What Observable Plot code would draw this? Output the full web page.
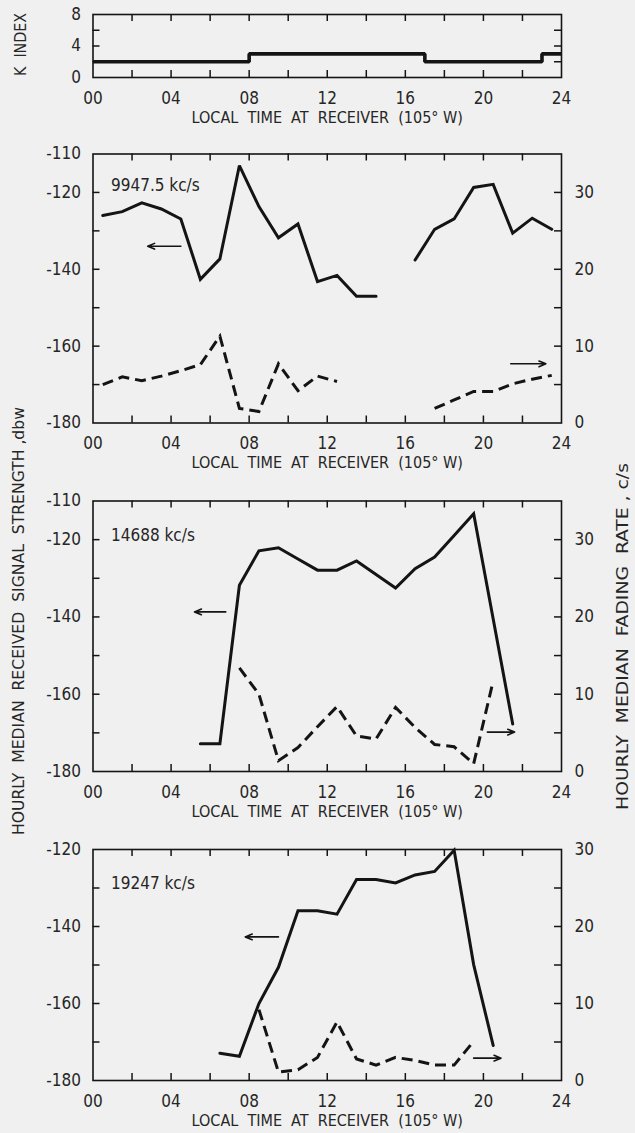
<!DOCTYPE html>
<html>
<head>
<meta charset="utf-8">
<script src="https://cdn.jsdelivr.net/npm/d3@7"></script>
<script src="https://cdn.jsdelivr.net/npm/@observablehq/plot@0.6"></script>
<style>
  html, body { margin: 0; padding: 0; background: #f0f0f0; }
  #chart { position: relative; width: 635px; height: 1133px; background: #f0f0f0; overflow: hidden; }
  #chart > svg { position: absolute; left: 0; }
</style>
</head>
<body>
<div id="chart"></div>
<script>
// ---- axes ----
const hourLabels = [0, 4, 8, 12, 16, 20, 24];
const hourMinorTicks = [2, 4, 6, 8, 10, 12, 14, 16, 18, 20, 22];
const xTitle = "LOCAL  TIME  AT  RECEIVER  (105° W)";

// ---- geomagnetic K index (step values) ----
const kHours = [0, 8, 17, 23, 24];
const kValues = [2, 3, 2, 3, 3];
const kLabels = [0, 4, 8];
const kTicks = [2, 4, 6];

// ---- 9947.5 kc/s ----
const hours9947 = [0.5, 1.5, 2.5, 3.5, 4.5, 5.5, 6.5, 7.5, 8.5, 9.5, 10.5, 11.5, 12.5, 13.5, 14.5, 15.5,
                   16.5, 17.5, 18.5, 19.5, 20.5, 21.5, 22.5, 23.5];
const signal9947 = [-126.0, -125.0, -122.7, -124.3, -126.9, -142.6, -137.3, -113.0, -123.7, -131.8, -128.2, -143.2,
                    -141.6, -147.0, -147.0, null, -137.6, -129.6, -126.9, -118.7, -117.9, -130.6, -126.7, -129.6];
const fade9947 = [5.0, 6.0, 5.5, 6.1, 6.8, 7.6, 11.3, 1.9, 1.5, 7.7, 4.2, 6.1, 5.4, null, null, null,
                  null, 1.9, 3.0, 4.1, 4.1, 5.1, 5.7, 6.2];

// ---- 14688 kc/s ----
const signalHours14688 = [5.5, 6.5, 7.5, 8.5, 9.5, 10.5, 11.5, 12.5, 13.5, 14.5, 15.5, 16.5, 17.5, 18.5, 19.5, 21.5];
const signal14688 = [-172.8, -172.8, -131.8, -122.9, -122.1, -125.0, -127.9, -127.9, -125.5, -129.0, -132.5,
                     -127.5, -124.5, -118.9, -113.3, -167.7];
const fadeHours14688 = [7.5, 8.5, 9.5, 10.5, 11.5, 12.5, 13.5, 14.5, 15.5, 16.5, 17.5, 18.5, 19.5, 20.5];
const fade14688 = [13.4, 10.0, 1.4, 3.1, 5.8, 8.4, 4.6, 4.2, 8.3, 5.7, 3.5, 3.2, 1.0, 11.7];

// ---- 19247 kc/s ----
const signalHours19247 = [6.5, 7.5, 8.5, 9.5, 10.5, 11.5, 12.5, 13.5, 14.5, 15.5, 16.5, 17.5, 18.5, 19.5, 20.5];
const signal19247 = [-172.9, -173.7, -160.0, -150.6, -135.9, -135.9, -136.8, -127.8, -127.8, -128.7, -126.6,
                     -125.7, -120.2, -149.9, -170.9];
const fadeHours19247 = [8.5, 9.5, 10.5, 11.5, 12.5, 13.5, 14.5, 15.5, 16.5, 17.5, 18.5, 19.5];
const fade19247 = [9.2, 1.1, 1.4, 3.0, 7.6, 2.8, 2.0, 3.0, 2.6, 2.0, 2.0, 5.1];

// ---- arrows pointing to the axis each curve belongs to [x1, x2, value, which axis] ----
const arrows9947 = [[4.5, 2.8, -134.0, "signal"], [21.4, 23.2, 7.7, "fade"]];
const arrows14688 = [[6.8, 5.2, -138.7, "signal"], [20.2, 21.6, 5.1, "fade"]];
const arrows19247 = [[9.5, 7.8, -142.7, "signal"], [19.5, 20.9, 2.9, "fade"]];

// fading rate (c/s) shares the frame with signal strength (dbw): 0 c/s at -180, 30 c/s at -120
const fadeToDbw = f => f * 2 - 180;
const dbwToFade = d => (d + 180) / 2;

const INK = "#141414";
const TEXT = "#262626";
const FONT = "'Liberation Sans Narrow', 'DejaVu Sans Condensed', 'Liberation Sans', Arial, sans-serif";
const W = 635, ML = 92.5, MR = 74;
const innerW = W - ML - MR;

const pad2 = h => String(h).padStart(2, "0");
const dbLabel = d => (d < 0 ? "-" + Math.abs(d) : String(d));

function commonMarks(innerH, yMinor, yLeftLabels, yLeftFormat, yRightLabels, yRightFormat) {
  const tickStyle = {stroke: INK, strokeWidth: 1.5};
  const marks = [
    Plot.tickX(hourMinorTicks, {x: d => d, insetTop: innerH - 7, ...tickStyle}),
    Plot.tickX(hourMinorTicks, {x: d => d, insetBottom: innerH - 7, ...tickStyle}),
    Plot.tickY(yMinor, {y: d => d, insetRight: innerW - 7, ...tickStyle}),
    Plot.tickY(yMinor, {y: d => d, insetLeft: innerW - 7, ...tickStyle}),
    Plot.frame({stroke: INK, strokeWidth: 1.6}),
    Plot.axisX(hourLabels, {tickSize: 0, tickPadding: 14, tickFormat: pad2, label: null, fontSize: 17, fill: TEXT}),
    Plot.axisY(yLeftLabels, {anchor: "left", tickSize: 0, tickPadding: 12, tickFormat: yLeftFormat, label: null, fontSize: 17, fill: TEXT}),
    Plot.text([xTitle], {frameAnchor: "bottom", dy: 45, fontSize: 16, fill: TEXT, ariaLabel: "x-title"})
  ];
  if (yRightLabels) {
    marks.push(Plot.axisY(yRightLabels, {anchor: "right", tickSize: 0, tickPadding: 13, tickFormat: yRightFormat, label: null, fontSize: 17, fill: TEXT}));
  }
  return marks;
}

function place(svg, top) {
  svg.style.top = top + "px";
  d3.select(svg).selectAll('g[aria-label="x-title"] text')
    .style("white-space", "pre")
    .attr("textLength", 281)
    .attr("lengthAdjust", "spacingAndGlyphs");
  document.getElementById("chart").appendChild(svg);
}

const plotBase = (height, mt, mb) => ({
  width: W, height, marginLeft: ML, marginRight: MR, marginTop: mt, marginBottom: mb,
  style: {background: "transparent", fontFamily: FONT, color: TEXT},
  x: {domain: [0, 24]}
});

// ---- K index panel ----
{
  const H = 135, mt = 14, innerH = 63;
  const kData = kHours.map((h, i) => ({h, k: kValues[i]}));
  const svg = Plot.plot({
    ...plotBase(H, mt, H - mt - innerH),
    y: {domain: [0, 8]},
    marks: [
      ...commonMarks(innerH, kTicks, kLabels, d => String(d), null, null),
      Plot.line(kData, {x: "h", y: "k", curve: "step-after", stroke: INK, strokeWidth: 3.6, strokeLinejoin: "miter", strokeLinecap: "butt"})
    ]
  });
  place(svg, 0);
}

function signalPanel({top, H, mt, innerH, yDomain, leftLabels, label, labelDy, sHours, sVals, fHours, fVals, arrows}) {
  const minor = d3.range(yDomain[0] + 10, yDomain[1], 10);
  const rightLabels = [-120, -140, -160, -180];
  const sData = sHours.map((h, i) => ({h, v: sVals[i]}));
  const fData = fHours.map((h, i) => ({h, v: fVals[i] == null ? null : fadeToDbw(fVals[i])}));
  const aData = arrows.map(([x1, x2, v, kind]) => ({x1, x2, y: kind === "fade" ? fadeToDbw(v) : v}));
  const svg = Plot.plot({
    ...plotBase(H, mt, H - mt - innerH),
    y: {domain: yDomain},
    marks: [
      ...commonMarks(innerH, minor, leftLabels, dbLabel, rightLabels, d => String(dbwToFade(d))),
      Plot.line(sData, {x: "h", y: "v", stroke: INK, strokeWidth: 3, strokeLinejoin: "miter", strokeMiterlimit: 3}),
      Plot.line(fData, {x: "h", y: "v", stroke: INK, strokeWidth: 3, strokeDasharray: "11,6", strokeLinecap: "butt", strokeLinejoin: "miter", strokeMiterlimit: 3}),
      Plot.arrow(aData, {x1: "x1", x2: "x2", y1: "y", y2: "y", stroke: INK, strokeWidth: 1.6, headLength: 7, headAngle: 45}),
      Plot.text([label], {frameAnchor: "top-left", dx: 18, dy: labelDy, textAnchor: "start", lineAnchor: "middle", fontSize: 17, fill: TEXT})
    ]
  });
  place(svg, top);
}

signalPanel({top: 135, H: 345, mt: 18.5, innerH: 269, yDomain: [-180, -110],
  leftLabels: [-110, -120, -140, -160, -180], label: "9947.5 kc/s", labelDy: 32,
  sHours: hours9947, sVals: signal9947, fHours: hours9947, fVals: fade9947, arrows: arrows9947});

signalPanel({top: 480, H: 348, mt: 20.5, innerH: 270.5, yDomain: [-180, -110],
  leftLabels: [-110, -120, -140, -160, -180], label: "14688 kc/s", labelDy: 35,
  sHours: signalHours14688, sVals: signal14688, fHours: fadeHours14688, fVals: fade14688, arrows: arrows14688});

signalPanel({top: 828, H: 305, mt: 21, innerH: 231, yDomain: [-180, -120],
  leftLabels: [-120, -140, -160, -180], label: "19247 kc/s", labelDy: 34,
  sHours: signalHours19247, sVals: signal19247, fHours: fadeHours19247, fVals: fade19247, arrows: arrows19247});

// ---- vertical axis titles spanning the panels ----
const overlay = d3.select("#chart").append("svg")
  .attr("width", W).attr("height", 1133)
  .style("top", "0px").style("pointer-events", "none");
const vTitles = [
  {text: "K  INDEX", x: 20.5, y: 44.5, len: 63},
  {text: "HOURLY  MEDIAN  RECEIVED  SIGNAL  STRENGTH ,dbw", x: 18.5, y: 621, len: 428},
  {text: "HOURLY  MEDIAN  FADING  RATE , c/s", x: 623, y: 636.5, len: 347}
];
overlay.selectAll("text").data(vTitles).join("text")
  .attr("transform", d => `translate(${d.x},${d.y}) rotate(-90)`)
  .attr("text-anchor", "middle")
  .attr("dominant-baseline", "central")
  .attr("textLength", d => d.len)
  .attr("lengthAdjust", "spacingAndGlyphs")
  .style("white-space", "pre")
  .attr("font-family", FONT)
  .attr("font-size", 15)
  .attr("fill", TEXT)
  .text(d => d.text);
</script>
</body>
</html>
